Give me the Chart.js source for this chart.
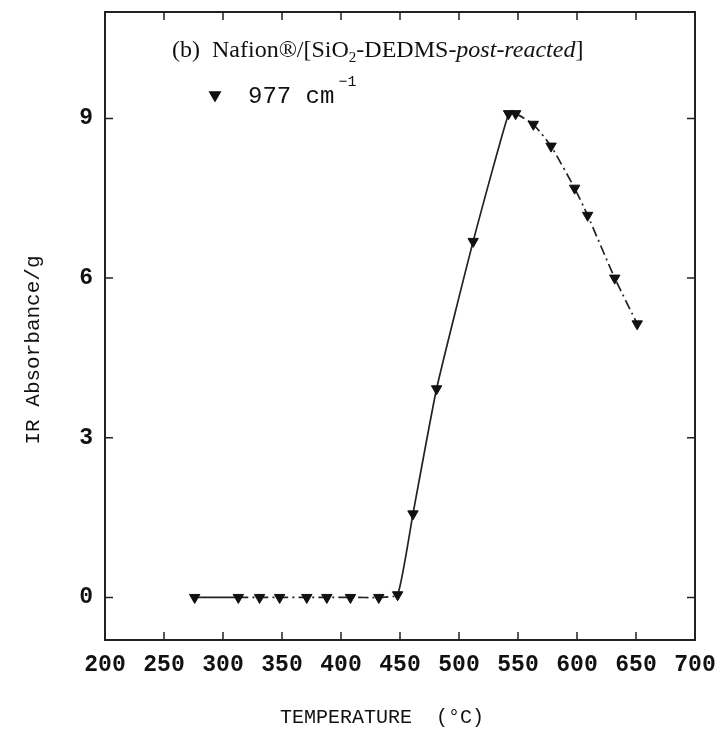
<!DOCTYPE html>
<html>
<head>
<meta charset="utf-8">
<script src="https://cdn.jsdelivr.net/npm/chart.js@4.4.1/dist/chart.umd.min.js"></script>
<style>
  html, body { margin: 0; padding: 0; background: #fff; }
  #wrap { width: 717px; height: 737px; }
</style>
</head>
<body>
<div id="wrap"><canvas id="irChart" width="717" height="737"></canvas></div>
<script>
// datos
const temperaturas = [276, 313, 331, 348, 371, 388, 408, 432, 448, 461, 481, 512, 542, 548, 563, 578, 598, 609, 632, 651];
const absorbancia = [0, 0, 0, 0, 0, 0, 0, 0, 0.05, 1.57, 3.92, 6.69, 9.09, 9.09, 8.89, 8.48, 7.69, 7.18, 6.0, 5.14];
const xTicks = [200, 250, 300, 350, 400, 450, 500, 550, 600, 650, 700];
const yTicks = [0, 3, 6, 9];
const serieLabel = '977 cm-1';
const tituloX = 'TEMPERATURE  (\u00B0C)';
const tituloY = 'IR Absorbance/g';

const monoFont = '"Liberation Mono", "DejaVu Sans Mono", monospace';
const serifFont = '"Liberation Serif", "DejaVu Serif", serif';

// marco, marcas hacia dentro, titulos y leyenda
const marcoPlugin = {
    id: 'marco',
    afterDraw(chart) {
        const ctx = chart.ctx;
        const a = chart.chartArea;
        const xs = chart.scales.x;
        const ys = chart.scales.y;
        ctx.save();
        ctx.strokeStyle = '#222';
        ctx.lineWidth = 2;
        ctx.strokeRect(a.left, a.top, a.right - a.left, a.bottom - a.top);

        ctx.lineWidth = 1.5;
        const len = 8;
        ctx.beginPath();
        xs.ticks.forEach(function(t) {
            const px = xs.getPixelForValue(t.value);
            ctx.moveTo(px, a.bottom); ctx.lineTo(px, a.bottom - len);
            ctx.moveTo(px, a.top); ctx.lineTo(px, a.top + len);
        });
        ys.ticks.forEach(function(t) {
            const py = ys.getPixelForValue(t.value);
            ctx.moveTo(a.left, py); ctx.lineTo(a.left + len, py);
            ctx.moveTo(a.right, py); ctx.lineTo(a.right - len, py);
        });
        ctx.stroke();

        // titulos de los ejes
        ctx.fillStyle = '#111';
        ctx.textAlign = 'center';
        ctx.textBaseline = 'middle';
        ctx.font = '20px ' + monoFont;
        ctx.fillText(tituloX, 382, 718);
        ctx.save();
        ctx.translate(33, 350);
        ctx.rotate(-Math.PI / 2);
        ctx.font = '21px ' + monoFont;
        ctx.fillText(tituloY, 0, 0);
        ctx.restore();

        // titulo interno
        ctx.textAlign = 'left';
        ctx.textBaseline = 'alphabetic';
        let x = 172;
        const y = 57;
        const partes = [
            { t: '(b)  Nafion\u00AE/[SiO', f: '24px ' + serifFont, dy: 0 },
            { t: '2', f: '15px ' + serifFont, dy: 5 },
            { t: '-DEDMS-', f: '24px ' + serifFont, dy: 0 },
            { t: 'post-reacted', f: 'italic 24px ' + serifFont, dy: 0 },
            { t: ']', f: '24px ' + serifFont, dy: 0 }
        ];
        partes.forEach(function(p) {
            ctx.font = p.f;
            ctx.fillText(p.t, x, y + p.dy);
            x += ctx.measureText(p.t).width;
        });

        // leyenda
        const ds = chart.data.datasets[0];
        ctx.strokeStyle = '#111';
        Chart.helpers.drawPoint(ctx, {
            pointStyle: 'triangle', rotation: 180, radius: 6, borderWidth: 1
        }, 215, 95);
        const txt = ds.label.split('-');
        ctx.font = '24px ' + monoFont;
        ctx.fillText(txt[0], 248, 103);
        const w = ctx.measureText(txt[0]).width;
        ctx.font = '15px ' + monoFont;
        ctx.fillText('\u2212' + txt[1], 252 + w, 86);
        ctx.restore();
    }
};

const ctxIR = document.getElementById('irChart').getContext('2d');
const irChart = new Chart(ctxIR, {
    type: 'line',
    data: {
        datasets: [{
            label: serieLabel,
            data: temperaturas.map(function(t, i) { return { x: t, y: absorbancia[i] }; }),
            borderColor: '#222',
            borderWidth: 1.7,
            backgroundColor: '#111',
            pointStyle: 'triangle',
            rotation: 180,
            pointRadius: 6,
            pointBorderWidth: 1,
            pointBorderColor: '#111',
            tension: 0.15,
            segment: {
                // tramos planos y de bajada con trazo-punto
                borderDash: function(c) {
                    const i = c.p0DataIndex;
                    if (i === 0) return [];
                    if (i >= 8 && i <= 12) return [];
                    return [10, 4, 2, 4];
                }
            }
        }]
    },
    options: {
        responsive: false,
        animation: false,
        layout: { padding: { left: 0, top: 12, right: 22, bottom: 0 } },
        plugins: {
            legend: { display: false },
            tooltip: { enabled: false }
        },
        scales: {
            x: {
                type: 'linear',
                min: 200,
                max: 700,
                afterBuildTicks: function(s) { s.ticks = xTicks.map(function(v) { return { value: v }; }); },
                afterFit: function(s) { s.height = 97; s.paddingLeft = 0; s.paddingRight = 0; },
                grid: { display: false, drawTicks: false },
                border: { display: false },
                ticks: {
                    color: '#111',
                    padding: 11,
                    maxRotation: 0,
                    autoSkip: false,
                    font: { family: monoFont, size: 23, weight: 'bold' }
                },
                title: { display: false }
            },
            y: {
                min: -0.8,
                max: 11,
                afterBuildTicks: function(s) { s.ticks = yTicks.map(function(v) { return { value: v }; }); },
                afterFit: function(s) { s.width = 105; s.paddingTop = 0; s.paddingBottom = 0; },
                grid: { display: false, drawTicks: false },
                border: { display: false },
                ticks: {
                    color: '#111',
                    padding: 12,
                    font: { family: monoFont, size: 23, weight: 'bold' }
                },
                title: { display: false }
            }
        }
    },
    plugins: [marcoPlugin]
});
</script>
</body>
</html>
